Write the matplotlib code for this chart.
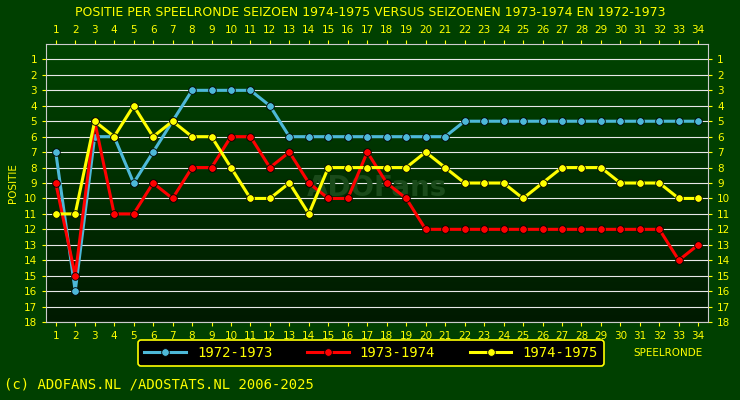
import matplotlib
matplotlib.use("Agg")
import matplotlib.pyplot as plt
import numpy as np
from matplotlib.colors import LinearSegmentedColormap

rounds = list(range(1, 35))
s7273 = [7, 16, 6, 6, 9, 7, 5, 3, 3, 3, 3, 4, 6, 6, 6, 6, 6, 6, 6, 6, 6,
         5, 5, 5, 5, 5, 5, 5, 5, 5, 5, 5, 5, 5]
s7374 = [9, 15, 5, 11, 11, 9, 10, 8, 8, 6, 6, 8, 7, 9, 10, 10, 7, 9, 10, 12,
         12, 12, 12, 12, 12, 12, 12, 12, 12, 12, 12, 12, 14, 13]
s7475 = [11, 11, 5, 6, 4, 6, 5, 6, 6, 8, 10, 10, 9, 11, 8, 8, 8, 8, 8, 7,
         8, 9, 9, 9, 10, 9, 8, 8, 8, 9, 9, 9, 10, 10]
labels = ["1972-1973", "1973-1974", "1974-1975"]
colors = ["#4db8d8", "#ff0000", "#ffff00"]

W, H = 740, 400
fig = plt.figure(figsize=(W / 100, H / 100), dpi=100)
fig.patch.set_facecolor("#004000")
ax = fig.add_axes([46 / W, 1 - 322 / H, 662 / W, 278 / H])
ax.set_xlim(0.5, 34.5)
ax.set_ylim(18, 0)
grad = np.linspace(0, 1, 256).reshape(-1, 1)
cm = LinearSegmentedColormap.from_list("g", ["#004400", "#001a00"])
ax.imshow(grad, cmap=cm, aspect="auto", extent=[0.5, 34.5, 18, 0], zorder=0)
for y in range(1, 19):
    ax.axhline(y, color="#e8e8e8", lw=0.8, zorder=1)

for data, lab, c in zip([s7273, s7374, s7475], labels, colors):
    ax.plot(rounds, data, color=c, lw=2.2, marker="o", ms=5.5, mec="black",
            mew=0.6, label=lab, zorder=3)

ax.text(17.5, 9.3, "ADOFans", color="#1a4a1a", fontsize=20, fontweight="bold",
        ha="center", va="center", zorder=2)

tc = "#ffff00"
ax.set_yticks(range(1, 19))
ax.set_xticks(rounds)
ax.tick_params(colors=tc, labelsize=7.5, length=3, top=True, labeltop=True,
               right=True, labelright=True)
for sp in ax.spines.values():
    sp.set_color("#cccccc")
ax.set_ylabel("POSITIE", color=tc, fontsize=7.5)

fig.text(0.5, 1 - 12 / H, "POSITIE PER SPEELRONDE SEIZOEN 1974-1975 VERSUS SEIZOENEN 1973-1974 EN 1972-1973",
         color=tc, fontsize=9, ha="center", va="center")
fig.text(668 / W, 1 - 353 / H, "SPEELRONDE", color=tc, fontsize=7.5, ha="center", va="center")
fig.text(4 / W, 1 - 384 / H, "(c) ADOFANS.NL /ADOSTATS.NL 2006-2025", color=tc,
         fontsize=10, family="DejaVu Sans Mono", ha="left", va="center")

leg = fig.legend(loc="center", bbox_to_anchor=(371 / W, 1 - 353 / H), ncol=3,
                 facecolor="black", edgecolor=tc, fontsize=10, framealpha=1,
                 handlelength=3, columnspacing=2.5, borderpad=0.4,
                 prop={"family": "DejaVu Sans Mono", "size": 10})
leg.get_frame().set_linewidth(1.2)
for t in leg.get_texts():
    t.set_color(tc)

fig.savefig("out.png", dpi=100, facecolor=fig.get_facecolor())
